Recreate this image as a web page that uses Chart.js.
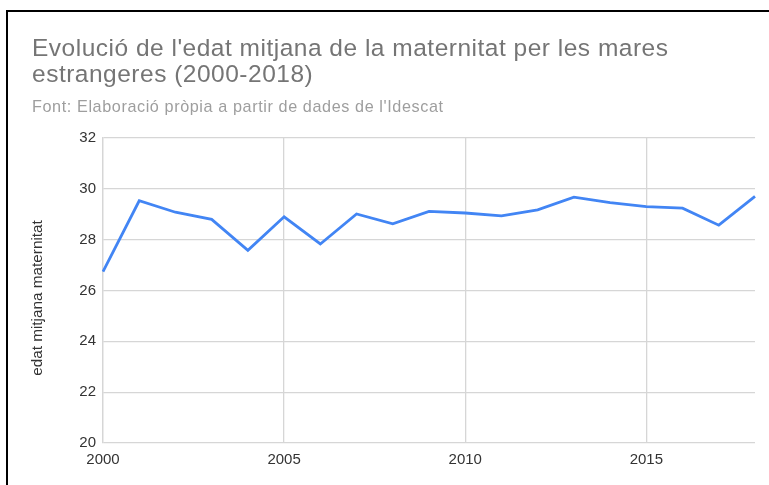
<!DOCTYPE html>
<html>
<head>
<meta charset="utf-8">
<script src="https://cdn.jsdelivr.net/npm/chart.js@4/dist/chart.umd.min.js"></script>
<style>
  html, body { margin: 0; padding: 0; background: #fff; width: 769px; height: 485px; overflow: hidden; }
  #frame { position: absolute; left: 6px; top: 10px; width: 800px; height: 500px; border-left: 2px solid #000; border-top: 2px solid #000; }
  #wrap { position: absolute; left: 0; top: 0; width: 769px; height: 485px; }
  .t { position: absolute; left: 32px; font-family: "Liberation Sans", Arial, sans-serif; white-space: nowrap; }
  #title { top: 35px; font-size: 24.5px; line-height: 26px; color: #757575; letter-spacing: 0.5px; }
  #sub { top: 96.5px; font-size: 16.2px; line-height: 18px; color: #9e9e9e; letter-spacing: 0.6px; }
</style>
</head>
<body>
<div id="frame"></div>
<div id="wrap"><canvas id="c" width="769" height="485"></canvas></div>
<div class="t" id="title">Evolució de l'edat mitjana de la maternitat per les mares<br>estrangeres (2000-2018)</div>
<div class="t" id="sub">Font: Elaboració pròpia a partir de dades de l'Idescat</div>
<script>
const years = ['2000','2001','2002','2003','2004','2005','2006','2007','2008','2009','2010','2011','2012','2013','2014','2015','2016','2017','2018'];
const edatMitjana = [26.74, 29.53, 29.08, 28.80, 27.58, 28.90, 27.83, 29.01, 28.62, 29.11, 29.05, 28.94, 29.17, 29.67, 29.46, 29.30, 29.24, 28.57, 29.70];
const xTickLabels = ['2000','2005','2010','2015'];
const yMin = 20, yMax = 32, yStep = 2;
const yAxisTitle = 'edat mitjana maternitat';

const gridColor = '#d6d6d6';
const fontFamily = '"Liberation Sans", Arial, sans-serif';
const tickFont = { family: fontFamily, size: 15 };

const yTitlePlugin = {
  id: 'yTitle',
  afterDraw(chart) {
    const ctx = chart.ctx;
    ctx.save();
    ctx.translate(42, 298);
    ctx.rotate(-Math.PI / 2);
    ctx.font = '15.3px ' + fontFamily;
    ctx.fillStyle = '#333';
    ctx.textAlign = 'center';
    ctx.textBaseline = 'alphabetic';
    ctx.fillText(yAxisTitle, 0, 0);
    ctx.restore();
  }
};

new Chart(document.getElementById('c'), {
  type: 'line',
  data: {
    labels: years,
    datasets: [{
      data: edatMitjana,
      borderColor: '#4285f4',
      borderWidth: 2.8,
      pointRadius: 0,
      tension: 0,
      fill: false
    }]
  },
  options: {
    responsive: false,
    animation: false,
    events: [],
    layout: { padding: { left: 0, right: 14, top: 138, bottom: 0 } },
    plugins: { legend: { display: false }, tooltip: { enabled: false }, title: { display: false } },
    scales: {
      x: {
        type: 'category',
        offset: false,
        grid: {
          drawTicks: false,
          color: (ctx) => (ctx.tick && xTickLabels.includes(years[ctx.index])) ? gridColor : 'rgba(0,0,0,0)',
          lineWidth: 1.3
        },
        border: { display: false },
        ticks: {
          autoSkip: false,
          maxRotation: 0,
          padding: 8,
          color: '#333',
          font: tickFont,
          callback: function(v, i) { return xTickLabels.includes(years[i]) ? years[i] : ''; }
        },
        afterFit: (s) => { s.height = 485 - 443; }
      },
      y: {
        min: yMin,
        max: yMax,
        grid: { drawTicks: false, color: gridColor, lineWidth: 1.3 },
        border: { display: true, color: gridColor, width: 1.3 },
        ticks: { stepSize: yStep, padding: 7, color: '#333', font: tickFont },
        afterFit: (s) => { s.width = 103; }
      }
    }
  },
  plugins: [yTitlePlugin]
});
</script>
</body>
</html>
